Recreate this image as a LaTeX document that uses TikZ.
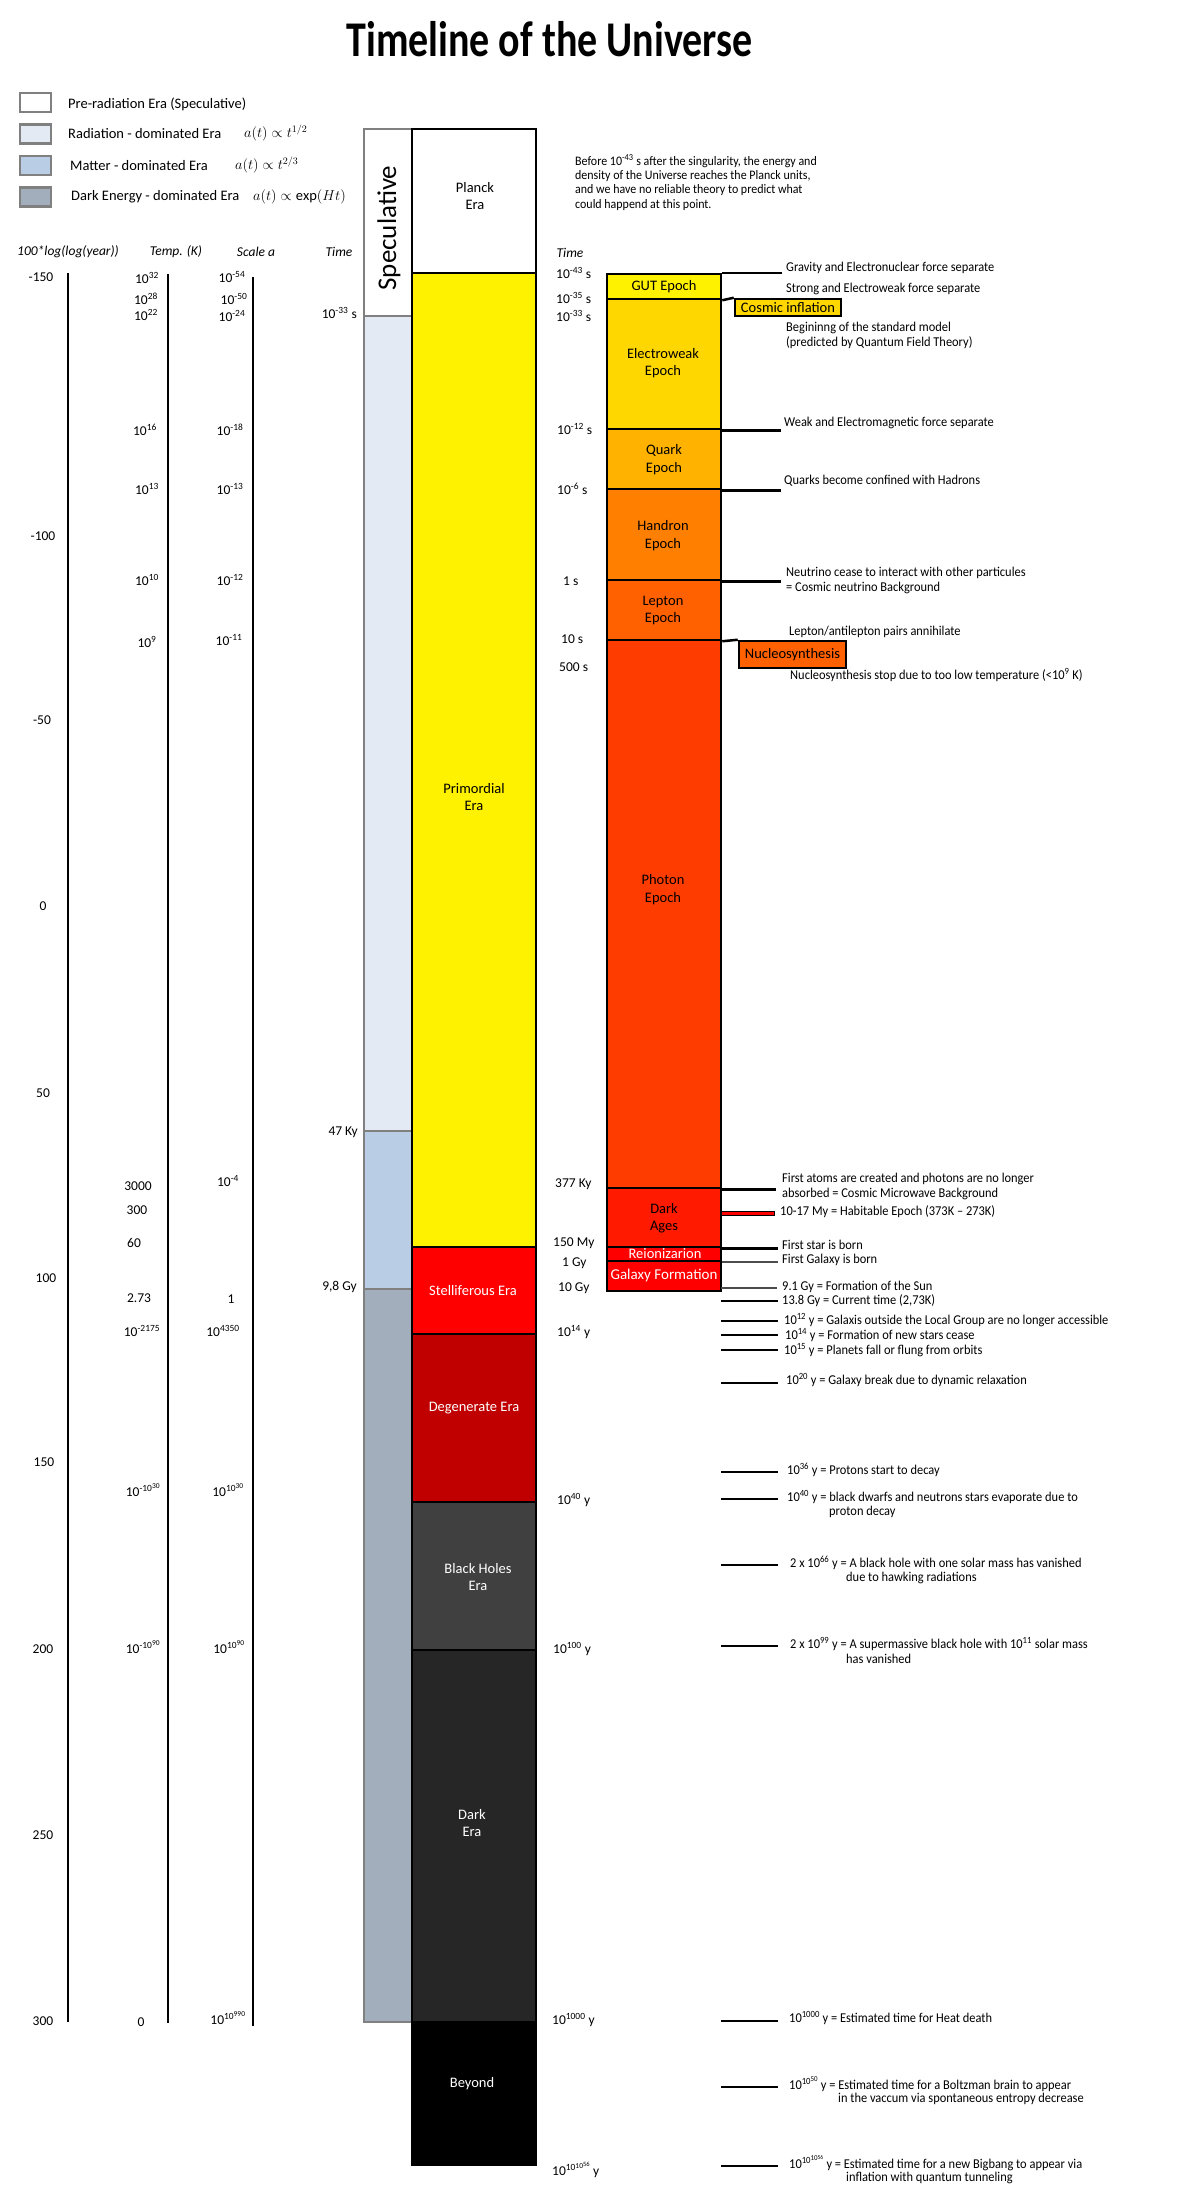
\documentclass[tikz,border=0pt]{standalone}
\usepackage{fontspec}
\setmainfont{Carlito}
\newfontfamily\condfont{Carlito}[FakeStretch=0.92]
\newfontfamily\titlefont{Carlito}[FakeStretch=0.8]
\newcommand\tenp[1]{10\textsuperscript{#1}}
\newcommand\ssup[1]{\raisebox{0.55ex}{\fontsize{7.5}{8}\selectfont #1}}
\newcommand\tenpp[1]{10\textsuperscript{10\ssup{#1}}}
\definecolor{specgray}{HTML}{808080}
\definecolor{radc}{HTML}{E3EAF4}
\definecolor{matc}{HTML}{B9CDE5}
\definecolor{dec}{HTML}{A3AEBD}
\definecolor{ewc}{HTML}{FFD700}
\definecolor{quarkc}{HTML}{FFB300}
\definecolor{hadc}{HTML}{FF8000}
\definecolor{lepc}{HTML}{FF6000}
\definecolor{photc}{HTML}{FF3C00}
\definecolor{darkagec}{HTML}{FF1A00}
\definecolor{galc}{HTML}{FF0000}
\definecolor{degc}{HTML}{C00000}
\definecolor{bhc}{HTML}{404040}
\definecolor{darkerac}{HTML}{262626}
\tikzset{
  ax/.style={line width=2.5pt},
  lab/.style={inner sep=0pt, font=\fontsize{13.5}{16}\selectfont},
  rlab/.style={lab, anchor=west},
  llab/.style={lab, anchor=east},
  hdr/.style={inner sep=0pt, font=\fontsize{13.5}{16}\selectfont\itshape},
  evt/.style={inner sep=0pt, anchor=west, align=left, font=\condfont\fontsize{13.5}{15}\selectfont},
  colbox/.style={draw=black, line width=2.5pt, inner sep=0pt},
  specbox/.style={draw=specgray, line width=2.5pt, inner sep=0pt, minimum width=48pt},
  erabox/.style={colbox, minimum width=124pt},
  epbox/.style={colbox, minimum width=114pt},
  eratxt/.style={inner sep=0pt, align=center, font=\fontsize{14.5}{17.5}\selectfont},
  tick/.style={line width=2.5pt},
  gtick/.style={line width=1.8pt, draw=black!70},
  legbox/.style={draw=specgray, line width=2.5pt, minimum width=31pt, minimum height=19pt, inner sep=0pt},
  legtxt/.style={inner sep=0pt, anchor=west, font=\fontsize{14.5}{17}\selectfont},
}
\begin{document}
\begin{tikzpicture}[x=1pt,y=-1pt]
\useasboundingbox (0,0) rectangle (1181,2192);
% title
\node[inner sep=0pt, anchor=base, font=\titlefont\bfseries\fontsize{50}{60}\selectfont] (title) at (549.5,57) {Timeline of the Universe};
% legend
\node[legbox, fill=white] (lg1) at (35.5,102.5) {};
\node[legbox, fill=radc] (lg2) at (35.5,134) {};
\node[legbox, fill=matc] (lg3) at (35.5,165.5) {};
\node[legbox, fill=dec] (lg4) at (35.5,197) {};
\node[legtxt] (lt1) at (68,104) {Pre-radiation Era (Speculative)};
\node[legtxt] (lt2) at (68,134) {Radiation - dominated Era};
\node[legtxt] (lt3) at (70,166) {Matter - dominated Era};
\node[legtxt] (lt4) at (71,197) {Dark Energy - dominated Era};
\node[legtxt] (lf2) at (244,133) {$a(t)\propto t^{1/2}$};
\node[legtxt] (lf3) at (235,165) {$a(t)\propto t^{2/3}$};
\node[legtxt] (lf4) at (253,197) {$a(t)\propto \exp(Ht)$};
% headers
\node[hdr] (h1) at (68,252) {100*log(log(year))};
\node[hdr] (h2) at (176,252) {Temp. (K)};
\node[hdr] (h3) at (256,252) {Scale a};
\node[hdr] (h4) at (339,252) {Time};
\node[hdr] (h5) at (570,253) {Time};
% axes
\draw[ax] (68,273) -- (68,2022);
\draw[ax] (168,274) -- (168,2023);
\draw[ax] (253,277) -- (253,2026);
% log labels
\node[lab] (g1) at (41,277) {-150};
\node[lab] (g2) at (43,536) {-100};
\node[lab] (g3) at (42,720) {-50};
\node[lab] (g4) at (43,906) {0};
\node[lab] (g5) at (43,1093) {50};
\node[lab] (g6) at (46,1278) {100};
\node[lab] (g7) at (44,1462) {150};
\node[lab] (g8) at (43,1649) {200};
\node[lab] (g9) at (43,1835) {250};
\node[lab] (g10) at (43,2021) {300};
% temperature labels
\node[lab] (t1) at (147,278) {\tenp{32}};
\node[lab] (t2) at (146,299) {\tenp{28}};
\node[lab] (t3) at (146,315) {\tenp{22}};
\node[lab] (t4) at (145,430) {\tenp{16}};
\node[lab] (t5) at (147,489) {\tenp{13}};
\node[lab] (t6) at (147,580) {\tenp{10}};
\node[lab] (t7) at (147,642) {\tenp{9}};
\node[lab] (t8) at (138,1186) {3000};
\node[lab] (t9) at (137,1210) {300};
\node[lab] (t10) at (134,1243) {60};
\node[lab] (t11) at (139,1298) {2.73};
\node[lab] (t12) at (142,1331) {\tenp{-2175}};
\node[lab] (t13) at (143,1490) {10\textsuperscript{-10\ssup{30}}};
\node[lab] (t14) at (143,1647) {10\textsuperscript{-10\ssup{90}}};
\node[lab] (t15) at (141,2022) {0};
% scale labels
\node[lab] (s1) at (232,277) {\tenp{-54}};
\node[lab] (s2) at (234,299) {\tenp{-50}};
\node[lab] (s3) at (232,316) {\tenp{-24}};
\node[lab] (s4) at (230,430) {\tenp{-18}};
\node[lab] (s5) at (230,489) {\tenp{-13}};
\node[lab] (s6) at (230,580) {\tenp{-12}};
\node[lab] (s7) at (229,640) {\tenp{-11}};
\node[lab] (s8) at (228,1181) {\tenp{-4}};
\node[lab] (s9) at (231,1299) {1};
\node[lab] (s10) at (223,1331) {\tenp{4350}};
\node[lab] (s11) at (228,1490) {\tenpp{30}};
\node[lab] (s12) at (229,1647) {\tenpp{90}};
\node[lab] (s13) at (228,2018) {\tenpp{990}};
% speculative column
\node[specbox, fill=white, minimum height=187pt] (spw) at (388,222.5) {};
\node[specbox, fill=radc, minimum height=815pt] (sprad) at (388,723.5) {};
\node[specbox, fill=matc, minimum height=158pt] (spmat) at (388,1210) {};
\node[specbox, fill=dec, minimum height=733pt] (spde) at (388,1655.5) {};
\node[inner sep=0pt, rotate=90, font=\fontsize{27}{32}\selectfont] (spT) at (389,228) {Speculative};
\node[llab] (lt33) at (357,313) {\tenp{-33} s};
\node[llab] (l47) at (358,1132) {47 Ky};
\node[llab] (l98) at (357,1287) {9,8 Gy};
% main column
\node[erabox, fill=white, minimum height=144pt] (planck) at (474,201) {};
\node[erabox, fill=yellow, minimum height=974pt] (prim) at (474,760) {};
\node[erabox, fill=galc, minimum height=87pt] (stel) at (474,1290.5) {};
\node[erabox, fill=degc, minimum height=168pt] (deg) at (474,1418) {};
\node[erabox, fill=bhc, minimum height=148pt] (bh) at (474,1576) {};
\node[erabox, fill=darkerac, minimum height=372pt] (dera) at (474,1836) {};
\node[erabox, fill=black, minimum height=143pt] (beyond) at (474,2093.5) {};
\node[eratxt] (plT) at (475,196) {Planck\\Era};
\node[eratxt] (prT) at (474,797) {Primordial\\Era};
\node[eratxt, text=white] (stT) at (473,1291) {Stelliferous Era};
\node[eratxt, text=white] (deT) at (474,1408) {Degenerate Era};
\node[eratxt, text=white] (bhT) at (478,1577) {Black Holes\\Era};
\node[eratxt, text=white] (drT) at (472,1823) {Dark\\Era};
\node[eratxt, text=white] (byT) at (472,2084) {Beyond};
% epoch column
\node[epbox, fill=yellow, minimum height=25pt] (gut) at (664,286.5) {};
\node[epbox, fill=ewc, minimum height=130pt] (ew) at (664,364) {};
\node[epbox, fill=quarkc, minimum height=60pt] (quark) at (664,459) {};
\node[epbox, fill=hadc, minimum height=91pt] (hadron) at (664,534.5) {};
\node[epbox, fill=lepc, minimum height=60pt] (lepton) at (664,610) {};
\node[epbox, fill=photc, minimum height=548pt] (photon) at (664,914) {};
\node[epbox, fill=darkagec, minimum height=59pt] (dark) at (664,1217.5) {};
\node[epbox, fill=galc, minimum height=14pt] (reion) at (664,1254) {};
\node[epbox, fill=galc, minimum height=30pt] (galf) at (664,1276) {};
\node[eratxt] (gutT) at (664,287) {GUT Epoch};
\node[eratxt] (ewT) at (663,363) {Electroweak\\Epoch};
\node[eratxt] (qT) at (664,459.5) {Quark\\Epoch};
\node[eratxt] (hT) at (663,535.5) {Handron\\Epoch};
\node[eratxt] (lT) at (663,610.5) {Lepton\\Epoch};
\node[eratxt] (phT) at (663,889.5) {Photon\\Epoch};
\node[eratxt] (daT) at (664,1218) {Dark\\Ages};
\node[eratxt, text=white] (reT) at (665,1254) {Reionizarion};
\node[eratxt, text=white, font=\fontsize{15}{17.5}\selectfont] (gfT) at (664,1275) {Galaxy Formation};
% side boxes
\node[colbox, fill=ewc, minimum width=106pt, minimum height=17pt, font=\fontsize{14.5}{17}\selectfont] (cosmic) at (788,307.5) {Cosmic inflation};
\node[colbox, fill=lepc, minimum width=107pt, minimum height=27pt, font=\fontsize{14.5}{17}\selectfont] (nucleo) at (792.5,654.5) {Nucleosynthesis};
\node[draw=black, line width=1pt, fill=galc, minimum width=53pt, minimum height=4pt, inner sep=0pt] (hab) at (748,1213) {};
% ticks
\draw[tick] (gut.north east) -- ++(60,0);
\draw[tick] (gut.south east) -- (cosmic.north west);
\draw[tick] (ew.south east) -- ++(59,0);
\draw[tick] (quark.south east) -- ++(59,0);
\draw[tick] (hadron.south east) -- ++(59,0);
\draw[tick] (lepton.south east) -- (nucleo.north west);
\draw[tick] (photon.south east) -- ++(54,0);
\draw[tick] (dark.south east) -- ++(56,0);
\draw[gtick] (reion.south east) -- ++(56,0);
\draw[gtick] (721,1288) -- (777,1288);
\foreach \yy in {1301,1321,1335,1350,1383,1472,1499,1565,1646,2021,2087,2166}
  \draw[tick] (721,\yy) -- (778,\yy);
% right time labels
\node[rlab] (r1) at (556,273) {\tenp{-43} s};
\node[rlab] (r2) at (556,298) {\tenp{-35} s};
\node[rlab] (r3) at (556,316) {\tenp{-33} s};
\node[rlab] (r4) at (557,429) {\tenp{-12} s};
\node[rlab] (r5) at (557,489) {\tenp{-6} s};
\node[rlab] (r6) at (563,581) {1 s};
\node[rlab] (r7) at (561,639) {10 s};
\node[rlab] (r8) at (559,667) {500 s};
\node[rlab] (r9) at (555,1184) {377 Ky};
\node[rlab] (r10) at (553,1243) {150 My};
\node[rlab] (r11) at (562,1263) {1 Gy};
\node[rlab] (r12) at (558,1288) {10 Gy};
\node[rlab] (r13) at (557,1332) {\tenp{14} y};
\node[rlab] (r14) at (557,1500) {\tenp{40} y};
\node[rlab] (r15) at (553,1649) {\tenp{100} y};
\node[rlab] (r16) at (552,2020) {\tenp{1000} y};
\node[rlab] (r17) at (552,2170) {10\textsuperscript{10\ssup{10\raisebox{0.5ex}{\fontsize{6.5}{7}\selectfont 56}}} y};
% paragraph
\node[evt, font=\condfont\fontsize{13}{14.3}\selectfont] (para) at (575,182.5) {Before \tenp{-43} s after the singularity, the energy and\\density of the Universe reaches the Planck units,\\and we have no reliable theory to predict  what\\could happend at this point.};
% events
\node[evt] (e1) at (786,268) {Gravity and Electronuclear force separate};
\node[evt] (e2) at (786,289) {Strong and Electroweak force separate};
\node[evt] (e3) at (786,335.5) {Begininng of the standard model\\(predicted by Quantum Field Theory)};
\node[evt] (e4) at (784,423) {Weak and Electromagnetic force separate};
\node[evt] (e5) at (784,481) {Quarks become confined with Hadrons};
\node[evt] (e6) at (786,580.5) {Neutrino cease to interact with other particules\\= Cosmic neutrino Background};
\node[evt] (e7) at (789,632) {Lepton/antilepton pairs annihilate};
\node[evt] (e8) at (790,675) {Nucleosynthesis stop due to too low temperature (<\tenp{9} K)};
\node[evt] (e9) at (782,1186.5) {First atoms are created and photons are no longer\\absorbed = Cosmic Microwave Background};
\node[evt] (e10) at (780,1212) {10-17 My = Habitable Epoch (373K – 273K)};
\node[evt] (e11) at (782,1245) {First star is born};
\node[evt] (e12) at (782,1260) {First Galaxy is born};
\node[evt] (e13) at (782,1287) {9.1 Gy = Formation of the Sun};
\node[evt] (e14) at (782,1301) {13.8 Gy = Current time (2,73K)};
\node[evt] (e15) at (784,1320) {\tenp{12} y = Galaxis outside the Local Group are no longer accessible};
\node[evt] (e16) at (785,1335) {\tenp{14} y = Formation of new stars cease};
\node[evt] (e17) at (784,1350) {\tenp{15} y = Planets fall or flung from orbits};
\node[evt] (e18) at (786,1380) {\tenp{20} y = Galaxy break due to dynamic relaxation};
\node[evt] (e19) at (787,1470) {\tenp{36} y = Protons start to decay};
\node[evt] (e20) at (787,1497) {\tenp{40} y = black dwarfs and neutrons stars evaporate due to};
\node[evt] (e20b) at (829,1512) {proton decay};
\node[evt] (e21) at (790,1563) {2 x \tenp{66} y = A black hole with one solar mass has vanished};
\node[evt] (e21b) at (846,1578) {due to hawking radiations};
\node[evt] (e22) at (790,1644) {2 x \tenp{99} y = A supermassive black hole with \tenp{11} solar mass};
\node[evt] (e22b) at (846,1659) {has vanished};
\node[evt] (e23) at (789,2018) {\tenp{1000} y = Estimated time for Heat death};
\node[evt] (e24) at (789,2084) {\tenpp{50} y = Estimated time for a Boltzman brain to appear};
\node[evt] (e24b) at (838,2099) {in the vaccum via spontaneous entropy decrease};
\node[evt] (e25) at (789,2163) {10\textsuperscript{10\ssup{10\raisebox{0.5ex}{\fontsize{6}{7}\selectfont 56}}} y = Estimated time for a new Bigbang to appear via};
\node[evt] (e25b) at (846,2178) {inflation with quantum tunneling};
\end{tikzpicture}
\end{document}
